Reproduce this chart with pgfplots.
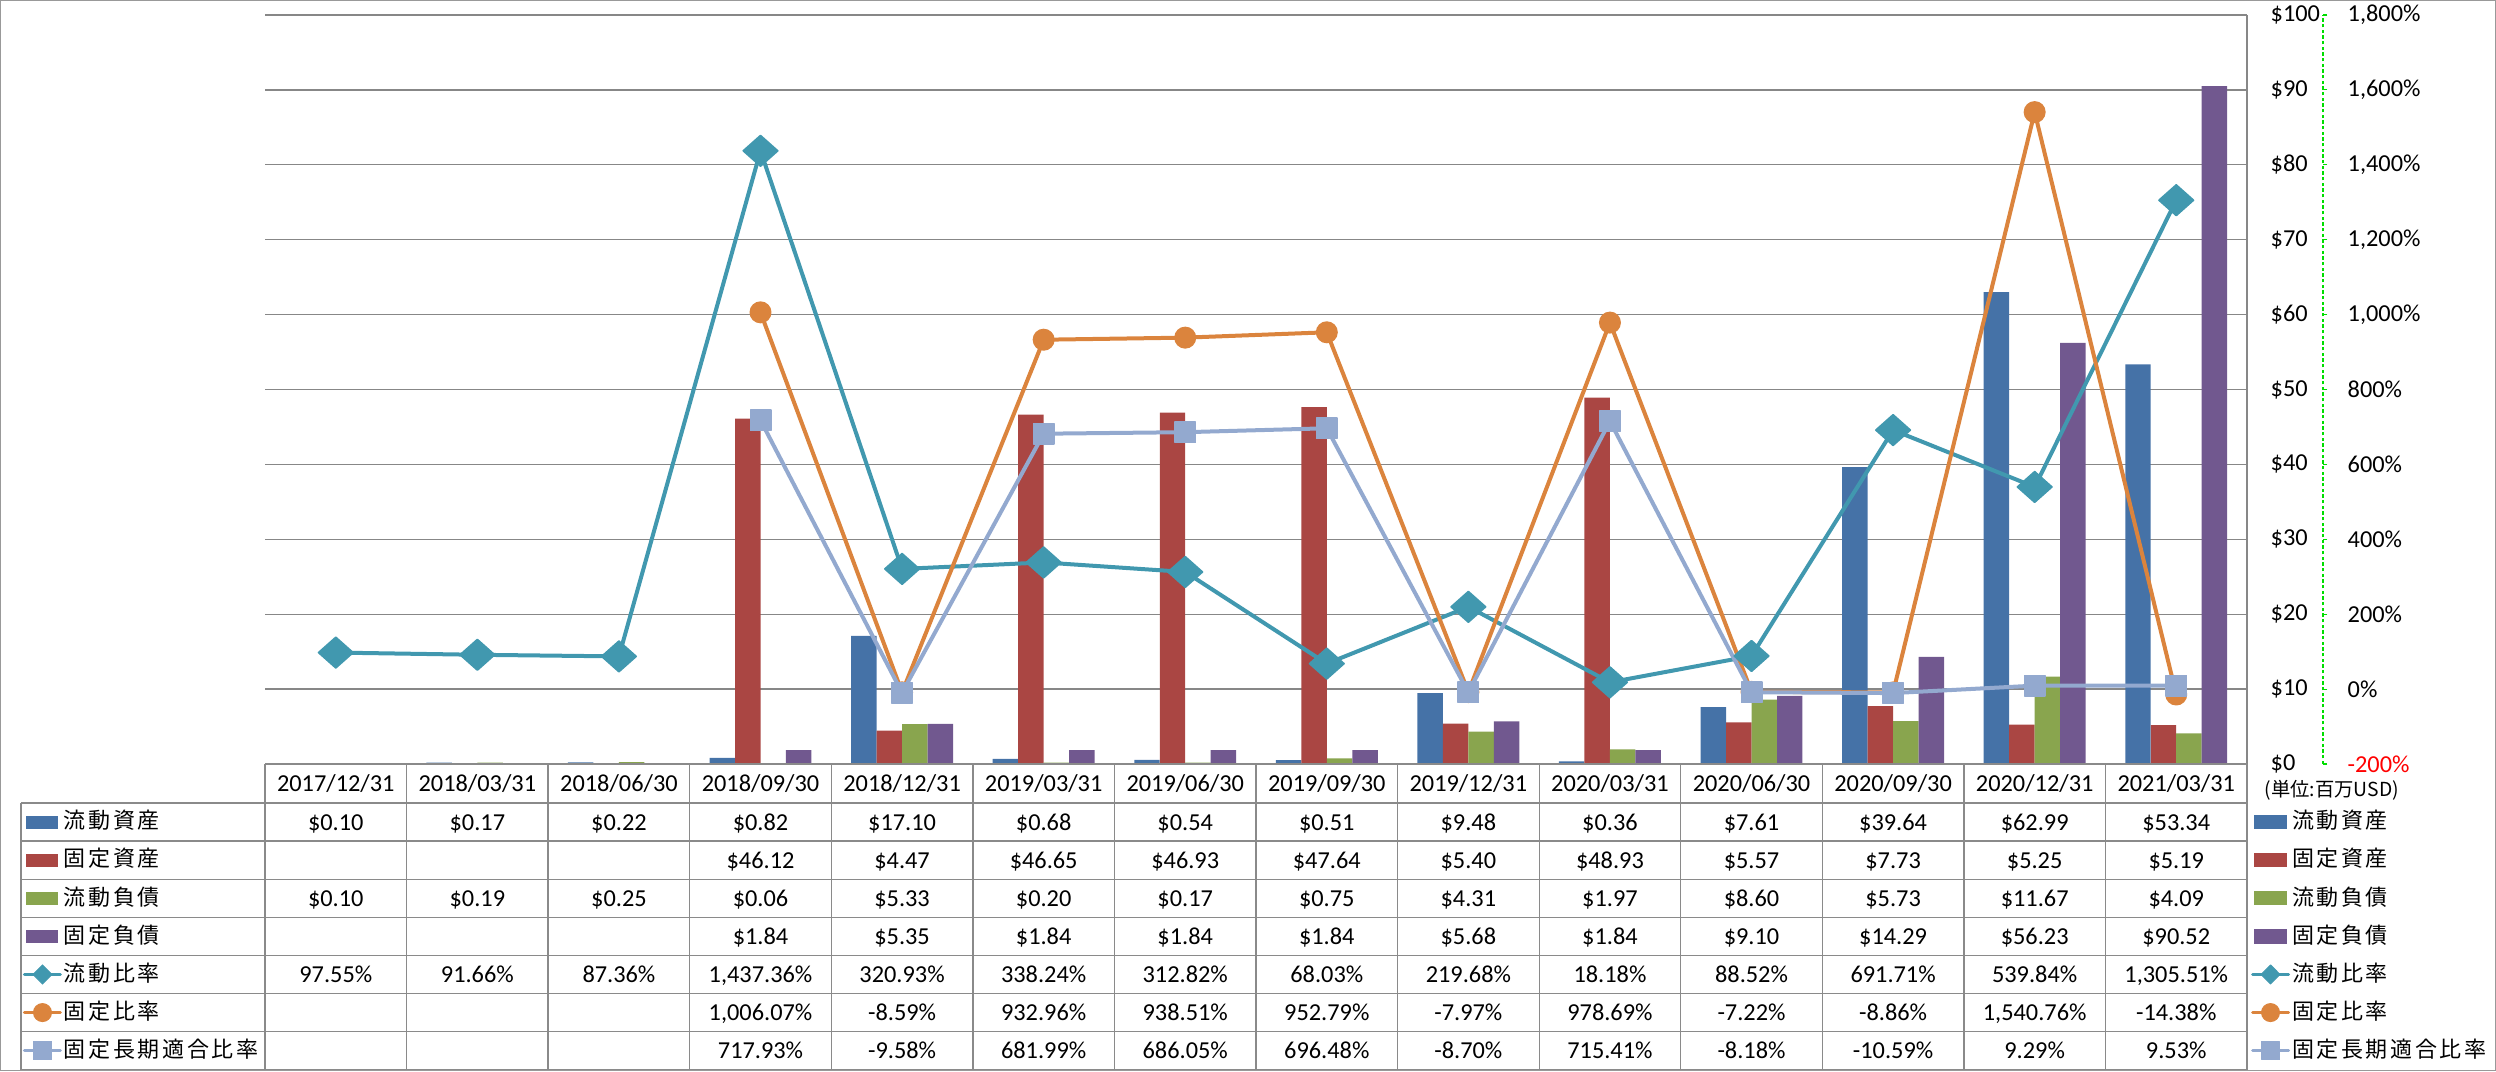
\documentclass[border=0pt]{standalone}
\usepackage{pgfplots}
\pgfplotsset{compat=1.18}
\usepackage{fontspec}
\setmainfont{Carlito}
\newfontfamily\jp[LetterSpace=12]{Noto Sans CJK JP}
\newfontfamily\jpn{Noto Sans CJK JP}
\definecolor{cA}{HTML}{4572A7}
\definecolor{cB}{HTML}{AA4643}
\definecolor{cC}{HTML}{89A54E}
\definecolor{cD}{HTML}{71588F}
\definecolor{cE}{HTML}{4198AF}
\definecolor{cF}{HTML}{DB843D}
\definecolor{cG}{HTML}{93A9CF}
\definecolor{gridc}{HTML}{878787}
\definecolor{tabc}{HTML}{8A8A8A}
\definecolor{axg}{HTML}{00DD00}
\newcommand\tf{\fontsize{7.3}{8.5}\selectfont}
\newcommand\lf{\jp\fontsize{6.6}{7.5}\selectfont}
\pgfplotsset{
  keyA/.style={legend image code/.code={\fill[cA] (0.6pt,-1.95pt) rectangle (10.2pt,1.95pt);}},
  keyB/.style={legend image code/.code={\fill[cB] (0.6pt,-1.95pt) rectangle (10.2pt,1.95pt);}},
  keyC/.style={legend image code/.code={\fill[cC] (0.6pt,-1.95pt) rectangle (10.2pt,1.95pt);}},
  keyD/.style={legend image code/.code={\fill[cD] (0.6pt,-1.95pt) rectangle (10.2pt,1.95pt);}},
  keyE/.style={legend image code/.code={\draw[cE,line width=0.9pt,line cap=round,mark=diamond*,mark size=2.85pt,mark options={xscale=1.33,line width=0.3pt},mark repeat=2,mark phase=2] plot coordinates {(0pt,0pt) (5.4pt,0pt) (10.8pt,0pt)};}},
  keyF/.style={legend image code/.code={\draw[cF,line width=0.9pt,line cap=round,mark=*,mark size=2.7pt,mark options={line width=0.3pt},mark repeat=2,mark phase=2] plot coordinates {(0pt,0pt) (5.4pt,0pt) (10.8pt,0pt)};}},
  keyG/.style={legend image code/.code={\draw[cG,line width=0.9pt,line cap=round,mark=square*,mark size=2.7pt,mark options={line width=0.3pt},mark repeat=2,mark phase=2] plot coordinates {(0pt,0pt) (5.4pt,0pt) (10.8pt,0pt)};}},
  tablegend/.style={legend cell align=left, legend style={draw=none, fill=none, inner sep=0pt, outer sep=0pt, row sep=0pt, column sep=0.6pt, font=\lf, nodes={inner sep=0pt, minimum height=11.43pt}}},
  baseax/.style={at={(79.5pt,-229.2pt)}, anchor=south west, scale only axis, width=594.6pt, height=224.7pt, xmin=-0.5, xmax=13.5, axis x line=none, axis y line*=right, /pgf/number format/assume math mode=true},
}
\begin{document}
\begin{tikzpicture}
\useasboundingbox (0pt,0pt) rectangle (748.8pt,-321.3pt);
\begin{axis}[baseax, ymin=0, ymax=100,
  y axis line style={-, draw=gridc, line width=0.4pt},
  ytick={0,10,...,100},
  yticklabel={\$\pgfmathprintnumber{\tick}},
  major tick length=0pt,
  ymajorgrids, grid style={gridc, line width=0.4pt},
  yticklabel style={anchor=west, inner sep=0pt, xshift=6.9pt, font=\tf},
  tablegend,
  legend style={at={(axis description cs:-0.1221,-0.05207)}, anchor=north west},
]
\addplot[ybar, bar width=7.645pt, bar shift=-11.47pt, fill=cA, draw=none, keyA] coordinates {(0,0.10)(1,0.17)(2,0.22)(3,0.82)(4,17.10)(5,0.68)(6,0.54)(7,0.51)(8,9.48)(9,0.36)(10,7.61)(11,39.64)(12,62.99)(13,53.34)};
\addplot[ybar, bar width=7.645pt, bar shift=-3.82pt, fill=cB, draw=none, keyB] coordinates {(3,46.12)(4,4.47)(5,46.65)(6,46.93)(7,47.64)(8,5.40)(9,48.93)(10,5.57)(11,7.73)(12,5.25)(13,5.19)};
\addplot[ybar, bar width=7.645pt, bar shift=3.82pt, fill=cC, draw=none, keyC] coordinates {(0,0.10)(1,0.19)(2,0.25)(3,0.06)(4,5.33)(5,0.20)(6,0.17)(7,0.75)(8,4.31)(9,1.97)(10,8.60)(11,5.73)(12,11.67)(13,4.09)};
\addplot[ybar, bar width=7.645pt, bar shift=11.47pt, fill=cD, draw=none, keyD] coordinates {(3,1.84)(4,5.35)(5,1.84)(6,1.84)(7,1.84)(8,5.68)(9,1.84)(10,9.10)(11,14.29)(12,56.23)(13,90.52)};
\addlegendimage{keyE}
\addlegendimage{keyF}
\addlegendimage{keyG}
\legend{流動資産,固定資産,流動負債,固定負債,流動比率,固定比率,固定長期適合比率}
\end{axis}
\begin{axis}[baseax, ymin=-200, ymax=1800, clip=false,
  axis y line shift=22.8pt,
  y axis line style={-, draw=axg, line width=0.35pt, dash pattern=on 1pt off 0.7pt},
  ytick={-200,0,...,1800},
  yticklabels={\textcolor{red}{-200\%},0\%,200\%,400\%,600\%,800\%,{1,000\%},{1,200\%},{1,400\%},{1,600\%},{1,800\%}},
  tick align=outside, major tick length=1.3pt,
  tick style={draw=axg, solid, line width=0.35pt},
  yticklabel style={anchor=west, inner sep=0pt, xshift=5.9pt, font=\tf},
  tablegend,
  legend style={at={(axis description cs:1.00202,-0.05207)}, anchor=north west},
]
\addlegendimage{keyA}
\addlegendimage{keyB}
\addlegendimage{keyC}
\addlegendimage{keyD}
\addplot[cE, line width=1.2pt, line join=round, mark=diamond*, mark size=4.6pt, mark options={xscale=1.5, line width=0.5pt}, keyE] coordinates {(0,97.55)(1,91.66)(2,87.36)(3,1437.36)(4,320.93)(5,338.24)(6,312.82)(7,68.03)(8,219.68)(9,18.18)(10,88.52)(11,691.71)(12,539.84)(13,1305.51)};
\addplot[cF, line width=1.2pt, line join=round, mark=*, mark size=3.1pt, mark options={line width=0.4pt}, keyF] coordinates {(3,1006.07)(4,-8.59)(5,932.96)(6,938.51)(7,952.79)(8,-7.97)(9,978.69)(10,-7.22)(11,-8.86)(12,1540.76)(13,-14.38)};
\addplot[cG, line width=1.2pt, line join=round, mark=square*, mark size=3.1pt, mark options={line width=0.4pt}, keyG] coordinates {(3,717.93)(4,-9.58)(5,681.99)(6,686.05)(7,696.48)(8,-8.70)(9,715.41)(10,-8.18)(11,-10.59)(12,9.29)(13,9.53)};
\legend{流動資産,固定資産,流動負債,固定負債,流動比率,固定比率,固定長期適合比率}
\end{axis}
\begin{scope}[x=0.3pt, y=-0.3pt]
\draw[gray!80, line width=0.3pt] (0.5,0.5) rectangle (2495.5,1070.5);
\draw[tabc, line width=0.4pt] (265,764) -- (2247,764);
\foreach \k in {0,...,7} {\draw[tabc, line width=0.4pt] (21,{803+38.1*\k}) -- (2247,{803+38.1*\k});}
\draw[tabc, line width=0.4pt] (21,803) -- (21,1069.7);
\foreach \k in {0,...,14} {\draw[tabc, line width=0.4pt] ({265+141.57*\k},764) -- ({265+141.57*\k},1069.7);}
\foreach \v [count=\c from 0] in {2017/12/31,2018/03/31,2018/06/30,2018/09/30,2018/12/31,2019/03/31,2019/06/30,2019/09/30,2019/12/31,2020/03/31,2020/06/30,2020/09/30,2020/12/31,2021/03/31}
  {\node[font=\tf, anchor=base, inner sep=0pt] at ({265+141.57*(\c+0.5)},791.5) {\v};}
\newcommand\tabrow[2]{\foreach \v [count=\c from 0] in {#2} {\node[font=\tf, anchor=base, inner sep=0pt] at ({265+141.57*(\c+0.5)},{803+38.1*(#1+0.5)+8}) {\v};}}
\tabrow{0}{\$0.10,\$0.17,\$0.22,\$0.82,\$17.10,\$0.68,\$0.54,\$0.51,\$9.48,\$0.36,\$7.61,\$39.64,\$62.99,\$53.34}
\tabrow{1}{{},{},{},\$46.12,\$4.47,\$46.65,\$46.93,\$47.64,\$5.40,\$48.93,\$5.57,\$7.73,\$5.25,\$5.19}
\tabrow{2}{\$0.10,\$0.19,\$0.25,\$0.06,\$5.33,\$0.20,\$0.17,\$0.75,\$4.31,\$1.97,\$8.60,\$5.73,\$11.67,\$4.09}
\tabrow{3}{{},{},{},\$1.84,\$5.35,\$1.84,\$1.84,\$1.84,\$5.68,\$1.84,\$9.10,\$14.29,\$56.23,\$90.52}
\tabrow{4}{97.55\%,91.66\%,87.36\%,{1,437.36\%},320.93\%,338.24\%,312.82\%,68.03\%,219.68\%,18.18\%,88.52\%,691.71\%,539.84\%,{1,305.51\%}}
\tabrow{5}{{},{},{},{1,006.07\%},-8.59\%,932.96\%,938.51\%,952.79\%,-7.97\%,978.69\%,-7.22\%,-8.86\%,{1,540.76\%},-14.38\%}
\tabrow{6}{{},{},{},717.93\%,-9.58\%,681.99\%,686.05\%,696.48\%,-8.70\%,715.41\%,-8.18\%,-10.59\%,9.29\%,9.53\%}
\node[font=\jpn\fontsize{5.8}{6.5}\selectfont, anchor=west, inner sep=0pt] at (2264,790) {(単位:百万USD)};
\end{scope}
\end{tikzpicture}
\end{document}
